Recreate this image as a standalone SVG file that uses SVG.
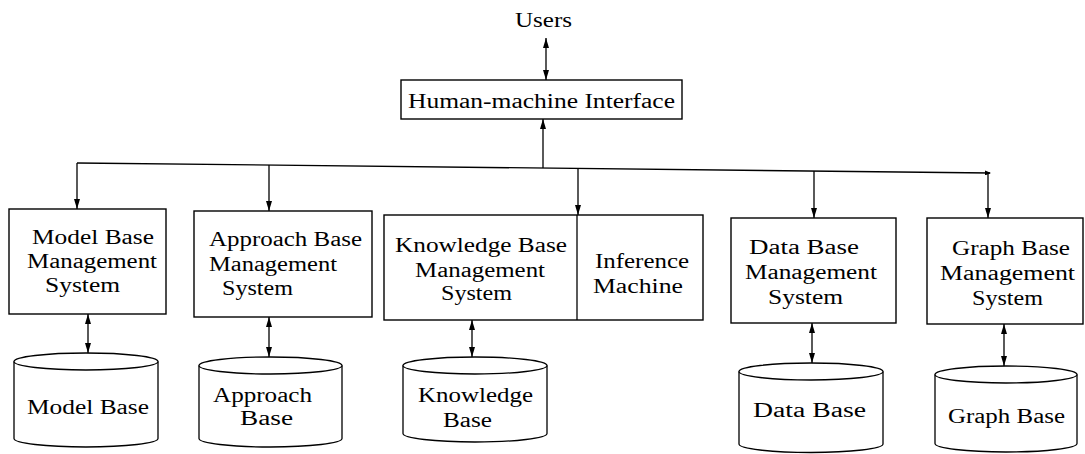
<svg xmlns="http://www.w3.org/2000/svg" width="1085" height="454" viewBox="0 0 1085 454">
  <style>
    .box { fill: #fff; stroke: #000; stroke-width: 1.4; }
    .db { fill: #fff; stroke: #000; stroke-width: 1.3; }
    .wire { fill: none; stroke: #000; stroke-width: 1.3; }
    .lbl { font-family: "Liberation Serif", "Times New Roman", serif; font-size: 20px; fill: #000; }
  </style>
  <defs>
    <marker id="ah" viewBox="0 0 10 6" refX="10" refY="3" markerWidth="10" markerHeight="6" markerUnits="userSpaceOnUse" orient="auto-start-reverse">
      <path d="M0,0 L10,3 L0,6 z" fill="#000"/>
    </marker>
    <marker id="ahs" viewBox="0 0 6 5" refX="5" refY="2.5" markerWidth="6" markerHeight="5" markerUnits="userSpaceOnUse" orient="auto">
      <path d="M0,0 L6,2.5 L0,5 z" fill="#000"/>
    </marker>
  </defs>

  <!-- connectors -->
  <g id="connectors">
    <!-- users <-> interface -->
    <line class="wire" x1="546" y1="38" x2="546" y2="80" marker-start="url(#ah)" marker-end="url(#ah)"/>
    <!-- bus to interface -->
    <line class="wire" x1="543" y1="168" x2="543" y2="119" marker-end="url(#ah)"/>
    <!-- bus -->
    <line class="wire" x1="77" y1="163" x2="990" y2="173" marker-end="url(#ahs)"/>
    <!-- bus to subsystems -->
    <line class="wire" x1="77" y1="163" x2="77" y2="209" marker-end="url(#ah)"/>
    <line class="wire" x1="269" y1="165" x2="269" y2="211" marker-end="url(#ah)"/>
    <line class="wire" x1="578" y1="169" x2="578" y2="215" marker-end="url(#ah)"/>
    <line class="wire" x1="814" y1="171" x2="814" y2="218" marker-end="url(#ah)"/>
    <line class="wire" x1="988" y1="173" x2="988" y2="218" marker-end="url(#ah)"/>
    <!-- management systems <-> stores -->
    <line class="wire" x1="88" y1="314" x2="88" y2="353" marker-start="url(#ah)" marker-end="url(#ah)"/>
    <line class="wire" x1="269" y1="317" x2="269" y2="357" marker-start="url(#ah)" marker-end="url(#ah)"/>
    <line class="wire" x1="472" y1="320" x2="472" y2="357" marker-start="url(#ah)" marker-end="url(#ah)"/>
    <line class="wire" x1="812" y1="323" x2="812" y2="363" marker-start="url(#ah)" marker-end="url(#ah)"/>
    <line class="wire" x1="1004" y1="324" x2="1004" y2="366" marker-start="url(#ah)" marker-end="url(#ah)"/>
  </g>

  <g id="users">
    <text class="lbl" x="515" y="27" textLength="57" lengthAdjust="spacingAndGlyphs">Users</text>
  </g>

  <g id="hmi">
    <rect class="box" x="401" y="80" width="281" height="39"/>
    <text class="lbl" x="408" y="108" textLength="267" lengthAdjust="spacingAndGlyphs">Human-machine Interface</text>
  </g>

  <g id="mbms">
    <rect class="box" x="9" y="209" width="157" height="105"/>
    <text class="lbl" x="32" y="244" textLength="122" lengthAdjust="spacingAndGlyphs">Model Base</text>
    <text class="lbl" x="27" y="268" textLength="130" lengthAdjust="spacingAndGlyphs">Management</text>
    <text class="lbl" x="45" y="292" textLength="75" lengthAdjust="spacingAndGlyphs">System</text>
  </g>

  <g id="abms">
    <rect class="box" x="194" y="211" width="178" height="106"/>
    <text class="lbl" x="209" y="246" textLength="153" lengthAdjust="spacingAndGlyphs">Approach Base</text>
    <text class="lbl" x="209" y="271" textLength="128" lengthAdjust="spacingAndGlyphs">Management</text>
    <text class="lbl" x="222" y="295" textLength="71" lengthAdjust="spacingAndGlyphs">System</text>
  </g>

  <g id="kbms">
    <rect class="box" x="384" y="215" width="319" height="105"/>
    <line class="wire" x1="577" y1="215" x2="577" y2="320"/>
    <text class="lbl" x="395" y="252" textLength="172" lengthAdjust="spacingAndGlyphs">Knowledge Base</text>
    <text class="lbl" x="415" y="277" textLength="130" lengthAdjust="spacingAndGlyphs">Management</text>
    <text class="lbl" x="441" y="300" textLength="71" lengthAdjust="spacingAndGlyphs">System</text>
    <text class="lbl" x="595" y="268" textLength="94" lengthAdjust="spacingAndGlyphs">Inference</text>
    <text class="lbl" x="593" y="293" textLength="90" lengthAdjust="spacingAndGlyphs">Machine</text>
  </g>

  <g id="dbms">
    <rect class="box" x="731" y="218" width="165" height="105"/>
    <text class="lbl" x="749" y="254" textLength="110" lengthAdjust="spacingAndGlyphs">Data Base</text>
    <text class="lbl" x="745" y="279" textLength="132" lengthAdjust="spacingAndGlyphs">Management</text>
    <text class="lbl" x="768" y="304" textLength="75" lengthAdjust="spacingAndGlyphs">System</text>
  </g>

  <g id="gbms">
    <rect class="box" x="927" y="218" width="156" height="106"/>
    <text class="lbl" x="952" y="255" textLength="118" lengthAdjust="spacingAndGlyphs">Graph Base</text>
    <text class="lbl" x="940" y="280" textLength="135" lengthAdjust="spacingAndGlyphs">Management</text>
    <text class="lbl" x="972" y="305" textLength="71" lengthAdjust="spacingAndGlyphs">System</text>
  </g>

  <!-- stores: cylinders -->
  <g id="model-base">
    <path class="db" d="M14,361.5 L14,438.5 A72,8.5 0 0 0 158,438.5 L158,361.5"/>
    <ellipse class="db" cx="86" cy="361.5" rx="72" ry="8.5"/>
    <text class="lbl" x="27" y="414" textLength="122" lengthAdjust="spacingAndGlyphs">Model Base</text>
  </g>

  <g id="approach-base">
    <path class="db" d="M199,365.5 L199,438.5 A71.5,8.5 0 0 0 342,438.5 L342,365.5"/>
    <ellipse class="db" cx="270.5" cy="365.5" rx="71.5" ry="8.5"/>
    <text class="lbl" x="213" y="402" textLength="99" lengthAdjust="spacingAndGlyphs">Approach</text>
    <text class="lbl" x="240" y="425" textLength="53" lengthAdjust="spacingAndGlyphs">Base</text>
  </g>

  <g id="knowledge-base">
    <path class="db" d="M403,365.5 L403,433.5 A72,8.5 0 0 0 547,433.5 L547,365.5"/>
    <ellipse class="db" cx="475" cy="365.5" rx="72" ry="8.5"/>
    <text class="lbl" x="418" y="402" textLength="115" lengthAdjust="spacingAndGlyphs">Knowledge</text>
    <text class="lbl" x="443" y="427" textLength="49" lengthAdjust="spacingAndGlyphs">Base</text>
  </g>

  <g id="data-base">
    <path class="db" d="M739,371.5 L739,444 A72,8.5 0 0 0 883,444 L883,371.5"/>
    <ellipse class="db" cx="811" cy="371.5" rx="72" ry="8.5"/>
    <text class="lbl" x="753" y="417" textLength="113" lengthAdjust="spacingAndGlyphs">Data Base</text>
  </g>

  <g id="graph-base">
    <path class="db" d="M935,374.5 L935,443.5 A71,8.5 0 0 0 1077,443.5 L1077,374.5"/>
    <ellipse class="db" cx="1006" cy="374.5" rx="71" ry="8.5"/>
    <text class="lbl" x="948" y="423" textLength="117" lengthAdjust="spacingAndGlyphs">Graph Base</text>
  </g>
</svg>
